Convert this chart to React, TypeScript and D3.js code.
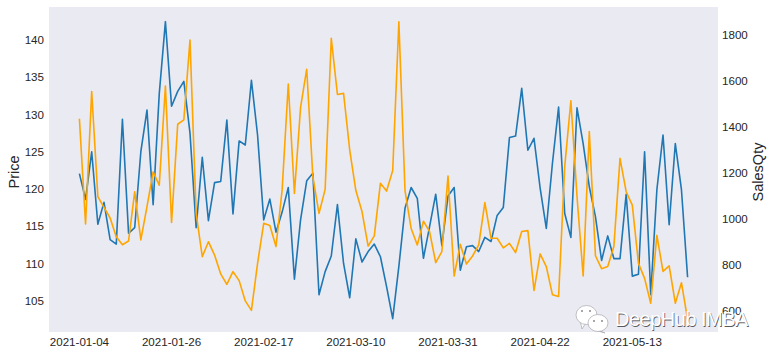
import React from "react";
import * as d3 from "d3";

const W = 773, H = 354;
const priceValues = [
  122.06,118.6,125.0,115.26,118.2,113.2,112.6,129.35,114.05,114.8,
  125.0,130.6,117.9,132.8,142.46,131.1,133.1,134.45,127.5,114.8,
  124.25,115.75,120.85,121.0,129.25,116.65,126.45,125.9,134.6,127.25,
  115.85,118.65,114.2,116.9,120.2,107.9,115.85,121.1,122.1,105.8,
  108.9,111.0,117.9,110.0,105.4,113.3,110.2,111.6,112.6,110.9,
  106.9,102.6,109.6,117.4,120.2,118.75,110.7,114.95,119.3,112.4,
  119.05,120.2,109.1,112.25,112.4,111.6,113.5,112.95,116.45,117.5,
  126.9,127.1,133.5,125.2,126.8,120.1,114.7,123.45,131.0,116.7,
  113.5,130.9,126.1,120.3,116.3,110.4,113.7,110.65,110.65,119.3,
  108.3,108.55,125.0,105.8,119.9,127.25,115.2,126.1,119.9,108.15,
];
const salesQtyValues = [
  1435,978,1553,1097,1050,1004,923,888,904,1118,
  909,1053,1204,1146,1577,985,1411,1430,1777,1024,
  836,901,843,761,716,771,732,644,603,807,
  981,971,880,1126,1586,1111,1484,1650,1183,1024,
  1128,1784,1540,1545,1299,1123,1032,882,926,1155,
  1121,1210,1856,1123,958,887,990,945,810,858,
  1186,752,890,804,839,887,1071,916,916,874,
  894,854,945,949,689,848,793,671,663,1227,
  1513,1097,752,1379,840,784,793,880,1263,1118,
  1060,807,742,634,929,772,796,634,723,564,
];
const dateTicks = ["2021-01-04","2021-01-26","2021-02-17","2021-03-10","2021-03-31","2021-04-22","2021-05-13"];
const dateTickIndex = [0,15,30,45,60,75,90];
const priceTicks = [105,110,115,120,125,130,135,140];
const qtyTicks = [600,800,1000,1200,1400,1600,1800];

const left = 49, right = 718, top = 7, bottom = 332;
const font = "'Liberation Sans', Arial, sans-serif";
const ink = "#262626";

const x = d3.scaleLinear().domain([-4.95, 103.95]).range([left, right]);
const yPrice = d3.scaleLinear().domain([100.8, 144.43]).range([bottom, top]);
const yQty = d3.scaleLinear().domain([509, 1920]).range([bottom, top]);

const pricePath = d3.line<number>().x((_, i) => x(i)).y((d) => yPrice(d))(priceValues) ?? "";
const qtyPath = d3.line<number>().x((_, i) => x(i)).y((d) => yQty(d))(salesQtyValues) ?? "";

function Bubble({ cx, cy, rx, ry, tailX, tailY, eyes }: { cx: number; cy: number; rx: number; ry: number; tailX: number; tailY: number; eyes: number[][] }) {
  return (
    <g>
      <path d={`M${cx - rx * 0.6},${cy + ry * 0.6} L${tailX},${tailY} L${cx - rx * 0.1},${cy + ry * 0.9} Z`} fill="#fff" stroke="#a8a8ae" strokeWidth={0.7} />
      <ellipse cx={cx} cy={cy} rx={rx} ry={ry} fill="#fff" stroke="#a8a8ae" strokeWidth={0.7} />
      {eyes.map((e, i) => <circle key={i} cx={e[0]} cy={e[1]} r={1} fill="#8a8a8a" />)}
    </g>
  );
}

const markText = "DeepHub IMBA";

export default function App() {
  return (
    <svg width={W} height={H} viewBox={`0 0 ${W} ${H}`} style={{ position: "absolute", left: 0, top: 0, background: "#fff" }}>
      <rect x={left} y={top} width={right - left} height={bottom - top} fill="#eaeaf2" />
      <path d={pricePath} fill="none" stroke="#1f77b4" strokeWidth={1.6} strokeLinejoin="round" />
      <path d={qtyPath} fill="none" stroke="#ffa500" strokeWidth={1.6} strokeLinejoin="round" />

      <g fontFamily={font} fontSize={11.6} fill={ink}>
        {dateTicks.map((t, i) => (
          <text key={t} x={x(dateTickIndex[i])} y={345.5} textAnchor="middle">{t}</text>
        ))}
        {priceTicks.map((t) => (
          <text key={t} x={44} y={yPrice(t) + 4.2} textAnchor="end">{t}</text>
        ))}
        {qtyTicks.map((t) => (
          <text key={t} x={722} y={yQty(t) + 4.2}>{t}</text>
        ))}
      </g>
      <text transform="translate(19,172) rotate(-90)" textAnchor="middle" fontFamily={font} fontSize={14.5} fill={ink}>Price</text>
      <text transform="translate(763,172) rotate(-90)" textAnchor="middle" fontFamily={font} fontSize={14.5} fill={ink}>SalesQty</text>

      <g>
        <Bubble cx={586.5} cy={315} rx={10.5} ry={9.5} tailX={582} tailY={329} eyes={[[582,311],[590,311]]} />
        <Bubble cx={598} cy={323} rx={10} ry={8.5} tailX={605} tailY={333} eyes={[[594,321],[602,321]]} />
        <text x={615.7} y={326.7} fontFamily={font} fontSize={20} letterSpacing={-0.5} fill="#5a5a5e">{markText}</text>
        <text x={615} y={326} fontFamily={font} fontSize={20} letterSpacing={-0.5} fill="#fff">{markText}</text>
      </g>
    </svg>
  );
}
